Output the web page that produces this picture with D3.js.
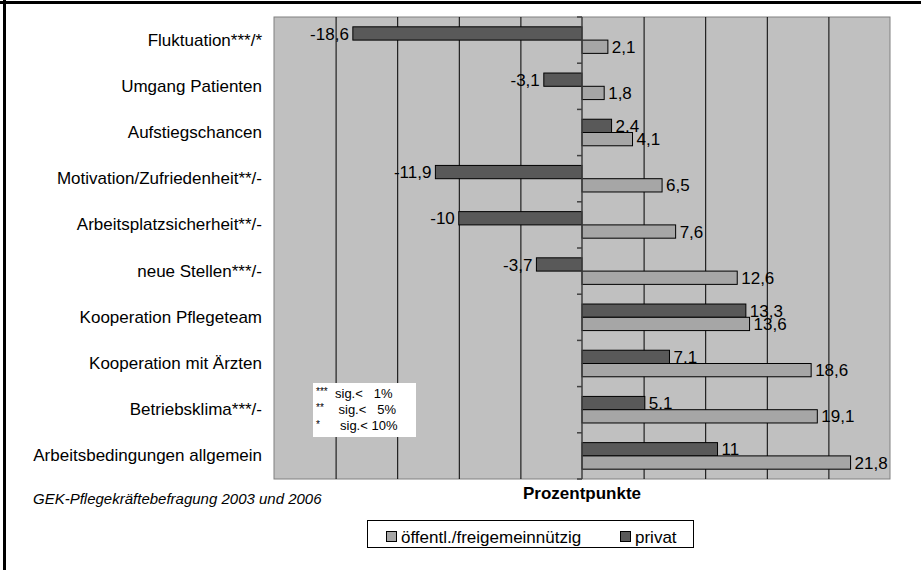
<!DOCTYPE html>
<html lang="de">
<head>
<meta charset="UTF-8">
<title>Prozentpunkte</title>
<script src="https://cdnjs.cloudflare.com/ajax/libs/d3/7.8.5/d3.min.js"></script>
<style>
  body{margin:0;background:#fff;}
  svg text{font-family:Arial,"Liberation Sans",sans-serif;}
</style>
</head>
<body>
<script>
    // Daten
    var categories=["Fluktuation***/*","Umgang Patienten","Aufstiegschancen","Motivation/Zufriedenheit**/-",
        "Arbeitsplatzsicherheit**/-","neue Stellen***/-","Kooperation Pflegeteam","Kooperation mit Ärzten",
        "Betriebsklima***/-","Arbeitsbedingungen allgemein"];
    var privat=[-18.6,-3.1,2.4,-11.9,-10,-3.7,13.3,7.1,5.1,11];
    var oeffentl=[2.1,1.8,4.1,6.5,7.6,12.6,13.6,18.6,19.1,21.8];
    var seriesNames=["privat","öffentl./freigemeinnützig"];
    var gridTicks=[-20,-15,-10,-5,5,10,15,20];
    var sigStars=["***","**","*"];
    var sigTexts=["sig.<   1%","sig.<   5%","sig.< 10%"];

    var width=921,height=570;
    var plot={left:274,top:17,right:890,bottom:479};
    var colors={"privat":"#595959","öffentl./freigemeinnützig":"#a6a6a6"};

    var svg=d3.select("body").append("svg")
        .attr("width",width).attr("height",height);

    // Rahmen (oben und links)
    svg.append("rect").attr("x",0).attr("y",1).attr("width",width).attr("height",3).attr("fill","#000");
    svg.append("rect").attr("x",3).attr("y",0).attr("width",3).attr("height",height).attr("fill","#000");

    var xScale=d3.scaleLinear().domain([-25,25]).range([plot.left,plot.right]);
    var yScale=d3.scaleBand().domain(categories).range([plot.top,plot.bottom]);
    var subScale=d3.scaleBand().domain(seriesNames).range([0,yScale.bandwidth()]).paddingOuter(0.74);

    // Hintergrund
    svg.append("rect")
        .attr("x",plot.left).attr("y",plot.top)
        .attr("width",plot.right-plot.left).attr("height",plot.bottom-plot.top)
        .attr("fill","#c0c0c0").attr("stroke","#808080").attr("stroke-width",1);

    // Gitterlinien
    svg.append("g")
        .attr("transform","translate(0,"+plot.bottom+")")
        .call(d3.axisBottom(xScale).tickValues(gridTicks).tickSize(-(plot.bottom-plot.top)).tickFormat(""))
        .call(function(g){
            g.select(".domain").remove();
            g.selectAll("line").attr("stroke","#000");
        });

    // Kategorien
    svg.append("g")
        .attr("transform","translate("+plot.left+",0)")
        .call(d3.axisLeft(yScale).tickSize(0).tickPadding(12))
        .call(function(g){
            g.select(".domain").remove();
            g.selectAll("text").attr("font-size",17).attr("fill","#000")
                .attr("font-family","Arial, 'Liberation Sans', sans-serif");
        });

    function fmt(d){ return String(d).replace(".",","); }

    function drawSeries(name,values){
        var g=svg.append("g");
        g.selectAll("rect").data(values).enter().append("rect")
            .attr("x",function(d){ return xScale(Math.min(0,d)); })
            .attr("y",function(d,i){ return yScale(categories[i])+subScale(name); })
            .attr("width",function(d){ return Math.abs(xScale(d)-xScale(0)); })
            .attr("height",subScale.bandwidth())
            .attr("fill",colors[name])
            .attr("stroke","#000").attr("stroke-width",1);
        g.selectAll("text").data(values).enter().append("text")
            .attr("x",function(d){ return d<0 ? xScale(d)-4 : xScale(d)+4; })
            .attr("y",function(d,i){ return yScale(categories[i])+subScale(name)+subScale.bandwidth()/2; })
            .attr("dy","0.36em")
            .attr("text-anchor",function(d){ return d<0 ? "end" : "start"; })
            .attr("font-size",17)
            .text(fmt);
    }
    drawSeries("privat",privat);
    drawSeries("öffentl./freigemeinnützig",oeffentl);

    // Nullachse mit Teilstrichen
    var bounds=categories.map(function(c){ return yScale(c); }).concat([plot.bottom]);
    svg.append("line")
        .attr("x1",xScale(0)).attr("x2",xScale(0))
        .attr("y1",plot.top).attr("y2",plot.bottom)
        .attr("stroke","#404040").attr("stroke-width",1.5);
    svg.append("g").selectAll("line").data(bounds).enter().append("line")
        .attr("x1",xScale(0)-5).attr("x2",xScale(0))
        .attr("y1",function(d){ return d; }).attr("y2",function(d){ return d; })
        .attr("stroke","#404040").attr("stroke-width",1.5);

    // Achsentitel
    svg.append("text")
        .attr("x",(plot.left+plot.right)/2).attr("y",499)
        .attr("text-anchor","middle").attr("font-size",17).attr("font-weight","bold")
        .text("Prozentpunkte");

    // Quelle
    svg.append("text")
        .attr("x",33).attr("y",504)
        .attr("font-size",15).attr("font-style","italic")
        .text("GEK-Pflegekräftebefragung 2003 und 2006");

    // Signifikanz-Box
    var sig=svg.append("g");
    sig.append("rect").attr("x",313).attr("y",383).attr("width",103).attr("height",54).attr("fill","#fff");
    var sigX=[335,338.5,340];
    sigStars.forEach(function(s,i){
        var cy=393+i*16.3;
        sig.append("text").attr("x",316).attr("y",cy).attr("dy","0.2em")
            .attr("font-size",10).text(s);
        sig.append("text").attr("x",sigX[i]).attr("y",cy).attr("dy","0.36em")
            .attr("font-size",13).attr("xml:space","preserve").style("white-space","pre")
            .text(sigTexts[i]);
    });

    // Legende
    var leg=svg.append("g");
    leg.append("rect").attr("x",367.5).attr("y",520.5).attr("width",326).attr("height",27)
        .attr("fill","#fff").attr("stroke","#000").attr("stroke-width",1);
    var legItems=[{name:"öffentl./freigemeinnützig",x:386},{name:"privat",x:620}];
    legItems.forEach(function(it){
        leg.append("rect").attr("x",it.x+0.5).attr("y",531.5).attr("width",10).attr("height",10)
            .attr("fill",colors[it.name]).attr("stroke","#000").attr("stroke-width",1);
        leg.append("text").attr("x",it.x+15).attr("y",536.5).attr("dy","0.36em")
            .attr("font-size",17).text(it.name);
    });
</script>
</body>
</html>
